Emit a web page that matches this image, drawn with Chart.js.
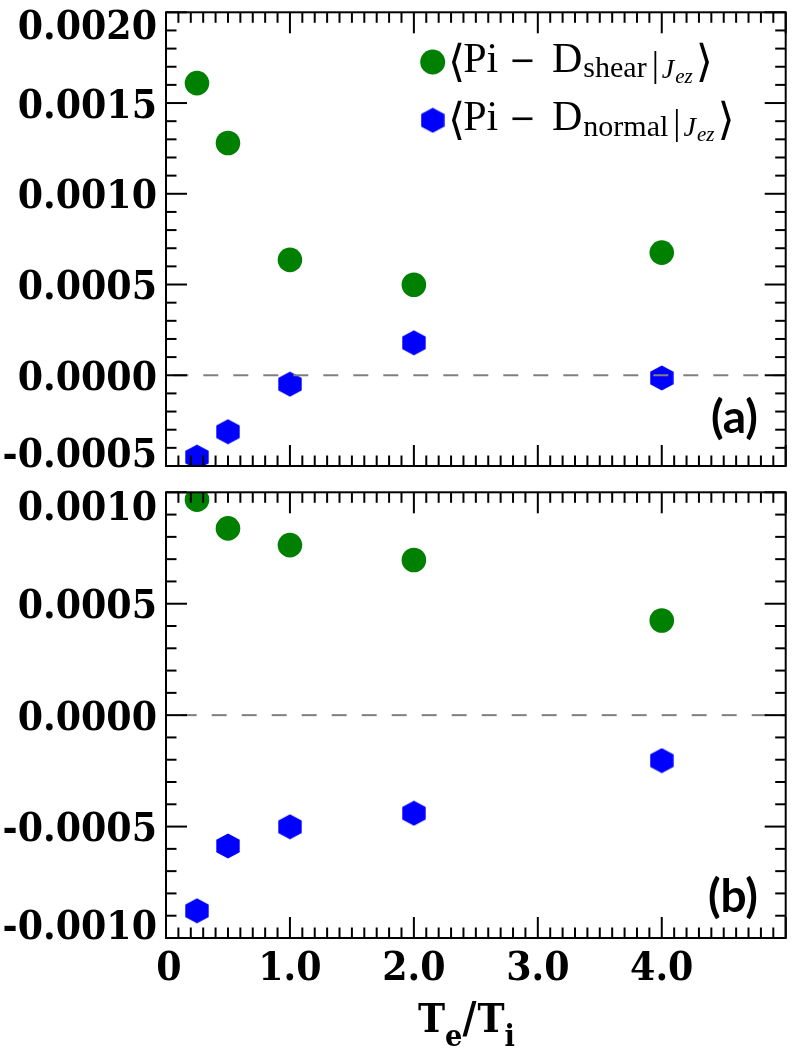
<!DOCTYPE html>
<html><head><meta charset="utf-8">
<script src="https://cdn.jsdelivr.net/npm/chart.js@4.4.0/dist/chart.umd.min.js"></script>
<style>
html,body{margin:0;padding:0;background:#fff;}
#wrap{position:relative;width:798px;height:1049px;background:#fff;}
canvas{display:block;}
</style></head><body>
<div id="wrap">
<div style="position:absolute;left:0;top:0;width:798px;height:480px"><canvas id="c1" width="798" height="480"></canvas></div>
<div style="position:absolute;left:0;top:480px;width:798px;height:569px"><canvas id="c2" width="798" height="569"></canvas></div>
</div>
<script>
// ---------- data ----------
const xValues = [0.25, 0.5, 1.0, 2.0, 4.0];
const shearA  = [0.00161, 0.00128, 0.000636, 0.000499, 0.000676];
const normalA = [-0.000451, -0.000311, -0.000049, 0.000179, -0.000015];
const shearB  = [0.000967, 0.000838, 0.000763, 0.000696, 0.000425];
const normalB = [-0.000878, -0.000587, -0.000501, -0.000440, -0.000204];
const xTicks = [0, 1, 2, 3, 4, 5];
const xTickLabels = ['0', '1.0', '2.0', '3.0', '4.0', ''];
const yTicksA = [-0.0005, 0, 0.0005, 0.001, 0.0015, 0.002];
const yTickLabelsA = ['-0.0005', '0.0000', '0.0005', '0.0010', '0.0015', '0.0020'];
const yTicksB = [-0.001, -0.0005, 0, 0.0005, 0.001];
const yTickLabelsB = ['-0.0010', '-0.0005', '0.0000', '0.0005', '0.0010'];
const seriesSubs = ['shear', 'normal'];
const panelLabels = ['(a)', '(b)'];
const xTitle = ['T', 'e', '/', 'T', 'i'];

const GREEN = '#008000', BLUE = '#0000ff';
const TICKFONT = "bold 40px 'DejaVu Serif'";
const SX = 0.91;

function hexCanvas(color) {
  const c = document.createElement('canvas'); c.width = 24; c.height = 26;
  const g = c.getContext('2d'); g.fillStyle = color; g.beginPath();
  const cx = 12, cy = 13, h = 12.6, w = 11.7;
  g.moveTo(cx, cy - h); g.lineTo(cx + w, cy - h / 2); g.lineTo(cx + w, cy + h / 2);
  g.lineTo(cx, cy + h); g.lineTo(cx - w, cy + h / 2); g.lineTo(cx - w, cy - h / 2);
  g.closePath(); g.fill();
  return c;
}
const HEX = hexCanvas(BLUE);

function pts(ys) { return xValues.map((x, i) => ({ x: x, y: ys[i] })); }

function condText(ctx, txt, x, y, align) {
  ctx.save(); ctx.translate(x, y); ctx.scale(SX, 1);
  ctx.textAlign = align || 'left'; ctx.textBaseline = 'alphabetic';
  ctx.fillText(txt, 0, 0); ctx.restore();
}
function condWidth(ctx, txt) { return ctx.measureText(txt).width * SX; }

function line(ctx, x1, y1, x2, y2) { ctx.beginPath(); ctx.moveTo(x1, y1); ctx.lineTo(x2, y2); ctx.stroke(); }

function framePlugin(cfg) {
  return {
    id: 'frame' + cfg.name,
    afterDatasetsDraw(chart) {
      const ctx = chart.ctx, a = chart.chartArea, xs = chart.scales.x, ys = chart.scales.y;
      ctx.save();
      ctx.strokeStyle = '#000'; ctx.lineWidth = 2; ctx.lineCap = 'butt';
      // x ticks (top & bottom)
      for (let i = 0; i <= 50; i++) {
        const px = xs.getPixelForValue(i / 10);
        const L = (i % 10 === 0) ? 21 : 10.5;
        line(ctx, px, a.bottom, px, a.bottom - L);
        line(ctx, px, a.top, px, a.top + L);
      }
      // y ticks (left & right)
      const n = Math.round((cfg.ymax - cfg.ymin) / 0.0001);
      for (let i = 0; i <= n; i++) {
        const v = cfg.ymin + i * 0.0001;
        const k = Math.round(v / 0.0001);
        const L = (k % 5 === 0) ? 21 : 10.5;
        const py = ys.getPixelForValue(v);
        line(ctx, a.left, py, a.left + L, py);
        line(ctx, a.right, py, a.right - L, py);
      }
      ctx.strokeRect(a.left, a.top, a.right - a.left, a.bottom - a.top);
      // y tick labels
      ctx.fillStyle = '#000'; ctx.font = TICKFONT;
      cfg.yTicks.forEach((v, i) => {
        const py = ys.getPixelForValue(v);
        let base;
        if (v === cfg.ymax) base = a.top + cfg.topOff;
        else if (v === cfg.ymin) base = a.bottom + 0.5;
        else base = py + 14.5;
        condText(ctx, cfg.yLabels[i], 157, base, 'right');
      });
      // x tick labels
      if (cfg.xlabels) {
        xTicks.forEach((v, i) => {
          const px = xs.getPixelForValue(v);
          condText(ctx, xTickLabels[i], px + (v === 0 ? 3 : 0), a.bottom + 41.7, 'center');
        });
        // axis title T_e/T_i
        let x = 418; const base = 1032 - 480, sbase = 1046 - 480;
        ctx.font = "bold 40px 'DejaVu Serif'";
        condText(ctx, xTitle[0], x, base); x += condWidth(ctx, xTitle[0]);
        ctx.font = "bold 30px 'DejaVu Serif'";
        condText(ctx, xTitle[1], x, sbase); x += condWidth(ctx, xTitle[1]);
        ctx.font = "bold 42px 'DejaVu Serif'";
        condText(ctx, xTitle[2], x, base); x += condWidth(ctx, xTitle[2]) + 1;
        ctx.font = "bold 40px 'DejaVu Serif'";
        condText(ctx, xTitle[3], x, base); x += condWidth(ctx, xTitle[3]);
        ctx.font = "bold 30px 'DejaVu Serif'";
        condText(ctx, xTitle[4], x, sbase);
      }
      // panel label
      ctx.font = "bold 46px Lato";
      ctx.textAlign = 'right'; ctx.textBaseline = 'alphabetic';
      ctx.fillText(cfg.panel, 758, cfg.panelBase);
      // legend
      if (cfg.legend) drawLegend(ctx);
      ctx.restore();
    }
  };
}

function drawLegend(ctx) {
  const rows = [{ sub: seriesSubs[0], base: 71.7, marker: 'c' }, { sub: seriesSubs[1], base: 130, marker: 'h' }];
  ctx.textAlign = 'left'; ctx.textBaseline = 'alphabetic'; ctx.fillStyle = '#000';
  rows.forEach(r => {
    const my = r.base - 9.7;
    if (r.marker === 'c') {
      ctx.fillStyle = GREEN; ctx.beginPath(); ctx.arc(432.7, my, 12.5, 0, Math.PI * 2); ctx.fill();
    } else {
      ctx.drawImage(HEX, 432.7 - 12, my - 13);
    }
    ctx.fillStyle = '#000';
    let x = 448;
    ctx.font = "44px 'DejaVu Sans'";
    ctx.fillText('\u27E8', x, r.base + 4); x += ctx.measureText('\u27E8').width - 2;
    ctx.font = "42px 'Liberation Serif'";
    ctx.fillText('Pi', x, r.base); x += ctx.measureText('Pi').width + 11;
    ctx.font = "32px 'DejaVu Sans'";
    ctx.fillText('\u2212', x, r.base - 1); x += ctx.measureText('\u2212').width + 16;
    ctx.font = "42px 'Liberation Serif'";
    ctx.fillText('D', x, r.base); x += ctx.measureText('D').width + 1;
    ctx.font = "30px 'Liberation Serif'";
    ctx.fillText(r.sub, x, r.base + 5.6); x += ctx.measureText(r.sub).width + 5;
    ctx.font = "36px 'Liberation Serif'";
    ctx.fillText('|', x, r.base + 4); x += ctx.measureText('|').width + 3;
    ctx.font = "italic 28px 'Liberation Serif'";
    ctx.fillText('J', x, r.base + 6); x += ctx.measureText('J').width + 1;
    ctx.font = "italic 21px 'Liberation Serif'";
    ctx.fillText('ez', x, r.base + 11); x += ctx.measureText('ez').width + 3;
    ctx.font = "44px 'DejaVu Sans'";
    ctx.fillText('\u27E9', x, r.base + 4);
  });
}

function makeChart(id, cfg) {
  return new Chart(document.getElementById(id), {
    type: 'scatter',
    data: {
      datasets: [
        { data: [{ x: 0, y: 0 }, { x: 5, y: 0 }], showLine: true, borderColor: '#7f7f7f', borderWidth: 2,
          borderDash: [15, 15], borderDashOffset: cfg.dashOff, pointRadius: 0, clip: 0, order: 0 },
        { data: pts(cfg.shear), pointStyle: 'circle', pointRadius: 12.3, backgroundColor: GREEN,
          borderWidth: 0, clip: 0, order: 1 },
        { data: pts(cfg.normal), pointStyle: HEX, pointRadius: 12, backgroundColor: BLUE,
          borderWidth: 0, clip: 0, order: 1 }
      ]
    },
    options: {
      responsive: false, animation: false, devicePixelRatio: 1,
      layout: { padding: { top: cfg.padTop, right: 10, left: 0, bottom: 0 } },
      plugins: { legend: { display: false }, tooltip: { enabled: false } },
      scales: {
        x: { type: 'linear', min: 0, max: 5, grid: { display: false }, border: { display: false },
             ticks: { display: false },
             afterBuildTicks: s => { s.ticks = xTicks.map(v => ({ value: v })); },
             afterFit: s => { s.height = cfg.xh; } },
        y: { type: 'linear', min: cfg.ymin, max: cfg.ymax, grid: { display: false }, border: { display: false },
             ticks: { display: false },
             afterBuildTicks: s => { s.ticks = cfg.yTicks.map(v => ({ value: v })); },
             afterFit: s => { s.width = 166; } }
      }
    },
    plugins: [framePlugin(cfg)]
  });
}

makeChart('c1', { name: 'A', shear: shearA, normal: normalA, ymin: -0.0005, ymax: 0.002,
  yTicks: yTicksA, yLabels: yTickLabelsA, padTop: 10, xh: 14, dashOff: 22.7, topOff: 27,
  panel: panelLabels[0], panelBase: 433, legend: true, xlabels: false });
makeChart('c2', { name: 'B', shear: shearB, normal: normalB, ymin: -0.001, ymax: 0.001,
  yTicks: yTicksB, yLabels: yTickLabelsB, padTop: 5, xh: 111, dashOff: 14.3, topOff: 28,
  panel: panelLabels[1], panelBase: 912 - 480, legend: false, xlabels: true });
</script>
</body></html>
